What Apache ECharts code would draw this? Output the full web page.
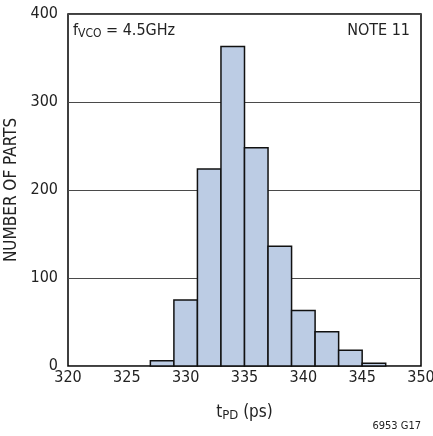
<!DOCTYPE html>
<html>
<head>
<meta charset="utf-8">
<script src="https://cdn.jsdelivr.net/npm/echarts@6/dist/echarts.min.js"></script>
<style>
  html, body { margin: 0; padding: 0; background: #fff; }
  #chart { width: 433px; height: 436px; }
</style>
</head>
<body>
<div id="chart"></div>
<script>
// Histogram of propagation delay, bins in ps
var binStart = [327, 329, 331, 333, 335, 337, 339, 341, 343, 345];
var binEnd   = [329, 331, 333, 335, 337, 339, 341, 343, 345, 347];
var counts   = [6, 75, 224, 363, 248, 136, 63, 39, 18, 3];

var xTicks = [320, 325, 330, 335, 340, 345, 350];
var yTicks = [0, 100, 200, 300, 400];

var FONT = '"Liberation Sans Narrow", "DejaVu Sans Condensed", "Roboto Condensed", Arial, sans-serif';

var data = binStart.map(function (s, i) { return [s, binEnd[i], counts[i]]; });

var chart = echarts.init(document.getElementById('chart'), null, { renderer: 'canvas' });

chart.setOption({
  animation: false,
  backgroundColor: '#ffffff',
  grid: {
    left: 68, right: 12, top: 14, bottom: 70,
    outerBoundsMode: 'none',
    containLabel: false,
    show: true, borderColor: '#000', borderWidth: 1.5, backgroundColor: 'transparent'
  },
  xAxis: {
    type: 'value',
    min: xTicks[0], max: xTicks[xTicks.length - 1], interval: 5,
    axisLine: { show: false },
    axisTick: { show: false },
    splitLine: { show: false },
    axisLabel: { color: '#222', fontFamily: FONT, fontSize: 16, margin: 4, hideOverlap: false },
    name: 't{sub|PD} (ps)',
    nameLocation: 'middle',
    nameGap: 37,
    nameTextStyle: {
      color: '#222', fontFamily: FONT, fontSize: 17,
      rich: { sub: { fontFamily: FONT, fontSize: 13, verticalAlign: 'bottom', padding: [6, 0, 0, 0] } }
    }
  },
  yAxis: {
    type: 'value',
    min: yTicks[0], max: yTicks[yTicks.length - 1], interval: 100,
    axisLine: { show: false },
    axisTick: { show: false },
    splitLine: { show: true, lineStyle: { color: '#4a4a4a', width: 1 } },
    axisLabel: { color: '#222', fontFamily: FONT, fontSize: 16, margin: 10 },
    name: 'NUMBER OF PARTS',
    nameLocation: 'middle',
    nameGap: 46,
    nameTextStyle: { color: '#222', fontFamily: FONT, fontSize: 17 }
  },
  series: [{
    type: 'custom',
    data: data,
    encode: { x: [0, 1], y: 2 },
    renderItem: function (params, api) {
      var p0 = api.coord([api.value(0), api.value(2)]);
      var p1 = api.coord([api.value(1), 0]);
      return {
        type: 'rect',
        shape: { x: p0[0], y: p0[1], width: p1[0] - p0[0], height: p1[1] - p0[1] },
        style: { fill: '#bccce4', stroke: '#111', lineWidth: 1.5 }
      };
    },
    z: 3
  }],
  graphic: [
    {
      type: 'text', left: 73, top: 23, z: 10,
      style: {
        text: 'f{sub|VCO} = 4.5GHz',
        fontFamily: FONT, fontSize: 16, fill: '#222',
        rich: { sub: { fontFamily: FONT, fontSize: 12, fill: '#222', padding: [6, 0, 0, 0] } }
      }
    },
    {
      type: 'text', right: 23, top: 23, z: 10,
      style: { text: 'NOTE 11', fontFamily: FONT, fontSize: 16, fill: '#222' }
    },
    {
      type: 'text', right: 12, top: 421, z: 10,
      style: { text: '6953 G17', fontFamily: FONT, fontSize: 11, fill: '#222' }
    }
  ]
});
</script>
</body>
</html>
